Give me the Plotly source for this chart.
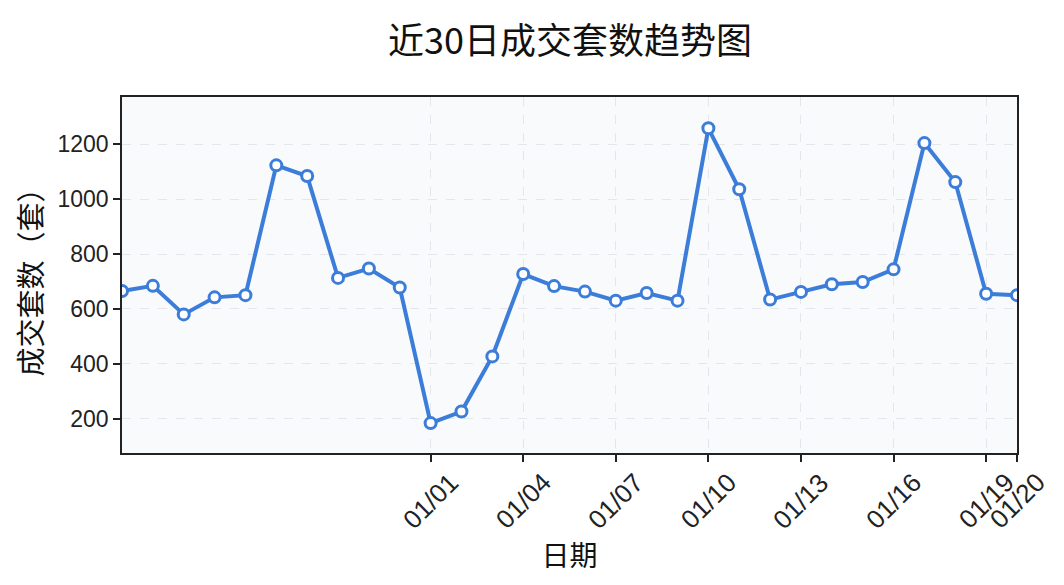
import plotly.graph_objects as go
import pandas as pd

# ---- data ----
dates = pd.date_range("2023-12-22", "2024-01-20", freq="D").strftime("%Y-%m-%d").tolist()
values = [665, 684, 580, 642, 650, 1123, 1084, 713, 747, 678,
          184, 226, 427, 727, 683, 663, 630, 658, 630, 1258,
          1036, 634, 662, 690, 698, 744, 1204, 1062, 655, 650]
tick_dates = ["2024-01-01", "2024-01-04", "2024-01-07", "2024-01-10", "2024-01-13",
              "2024-01-16", "2024-01-19", "2024-01-20"]
tick_labels = ["01/01", "01/04", "01/07", "01/10", "01/13", "01/16", "01/19", "01/20"]
y_ticks = [200, 400, 600, 800, 1000, 1200]

title_text = "近30日成交套数趋势图"
x_title = "日期"
y_title = "成交套数（套）"

FONT = "Liberation Sans, Arial, Noto Sans CJK SC, sans-serif"
CJK = "Noto Sans CJK SC, Liberation Sans, sans-serif"
BLUE = "#3b7dd8"

W, H = 1048, 569  # page body has an 8px margin
fig = go.Figure()
fig.add_trace(go.Scatter(
    x=dates, y=values, mode="lines+markers",
    line=dict(color=BLUE, width=4),
    marker=dict(size=11, color="white", line=dict(color=BLUE, width=3)),
    showlegend=False,
))

for d, lab in zip(tick_dates, tick_labels):
    fig.add_annotation(x=d, xref="x", y=0, yref="paper", yshift=-48,
                       text=lab, textangle=-45, showarrow=False,
                       font=dict(family=FONT, size=26, color="#222"),
                       xanchor="center", yanchor="middle")

# chart title, centred over the plot area
fig.add_annotation(x=0.5, xref="paper", y=1, yref="paper", yshift=59,
                   text=title_text, showarrow=False,
                   font=dict(family=CJK, size=36, color="#111"),
                   xanchor="center", yanchor="middle")

fig.update_layout(
    width=W, height=H,
    margin=dict(l=114, r=39, t=89, b=124),
    paper_bgcolor="white", plot_bgcolor="#f8fafc",
    font=dict(family=FONT, color="#222"),
)
fig.update_xaxes(
    type="date", range=[dates[0], dates[-1]],
    tickvals=tick_dates, ticktext=tick_labels, showticklabels=False,
    ticks="outside", ticklen=7, tickwidth=1.5, tickcolor="#222",
    showline=True, mirror=True, linecolor="#222", linewidth=1.6,
    showgrid=True, gridcolor="#e3e6ea", griddash="dash", gridwidth=1,
    zeroline=False,
    title=dict(text=x_title, standoff=86, font=dict(family=CJK, size=28, color="#111")),
)
fig.update_yaxes(
    range=[75, 1372], tickvals=y_ticks,
    ticks="outside", ticklen=7, tickwidth=1.5, tickcolor="#222",
    tickfont=dict(family=FONT, size=23, color="#222"),
    showline=True, mirror=True, linecolor="#222", linewidth=1.6,
    showgrid=True, gridcolor="#e3e6ea", griddash="dash", gridwidth=1,
    zeroline=False,
    title=dict(text=y_title, standoff=6, font=dict(family=CJK, size=29, color="#111")),
)

fig.write_html("out.html")
